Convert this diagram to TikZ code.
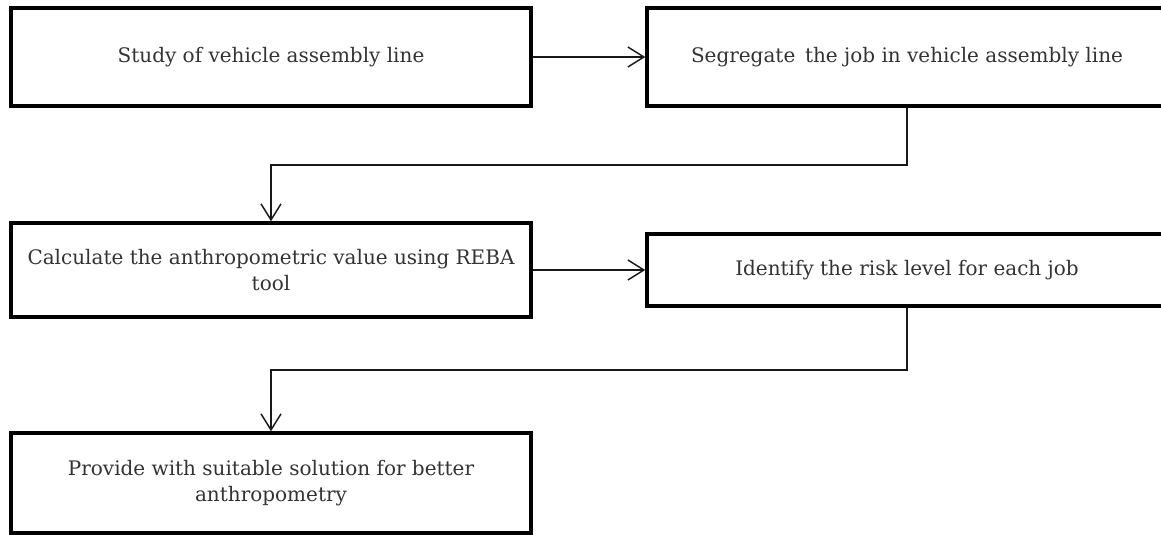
\documentclass[tikz,border=0pt]{standalone}
\usepackage{fontspec}
\setmainfont{DejaVu Serif}
\usetikzlibrary{arrows.meta}
\usetikzlibrary{positioning}

\tikzset{
  stepbox/.style={draw=black, line width=2.6pt, minimum width=390pt, inner sep=0pt,
    align=center, text=black!80, font=\fontsize{15}{19}\selectfont},
  link/.style={draw=black!90, line width=1.1pt, -{Straight Barb[length=12pt,width=15pt]}},
}

\begin{document}
\begin{tikzpicture}[x=0.75pt,y=0.75pt,yscale=-1,xscale=1]
\useasboundingbox (0,0) rectangle (1161,535);

%Boxes of the first row
\node[stepbox, minimum height=73.5pt] (study) at (271,57) {Study of vehicle assembly line};
\node[stepbox, minimum height=73.5pt] (segregate) at (907,57) {Segregate\, the job in vehicle assembly line};

%Boxes of the second row
\node[stepbox, minimum height=70.5pt] (reba) at (271,270) {Calculate the anthropometric value using REBA\\tool};
\node[stepbox, minimum height=54pt] (risk) at (907,270) {Identify the risk level for each job};

%Last box
\node[stepbox, minimum height=75pt] (solution) at (271,483) {Provide with suitable solution for better\\anthropometry};

%Turning points of the elbow lines
\coordinate (turnA) at (907,165);
\coordinate (turnB) at (907,370);

%Connectors
\draw[link] (study) -- (segregate);
\draw[link] (segregate.south) -- (turnA) -| (reba.north);
\draw[link] (reba) -- (risk);
\draw[link] (risk.south) -- (turnB) -| (solution.north);

\end{tikzpicture}
\end{document}
